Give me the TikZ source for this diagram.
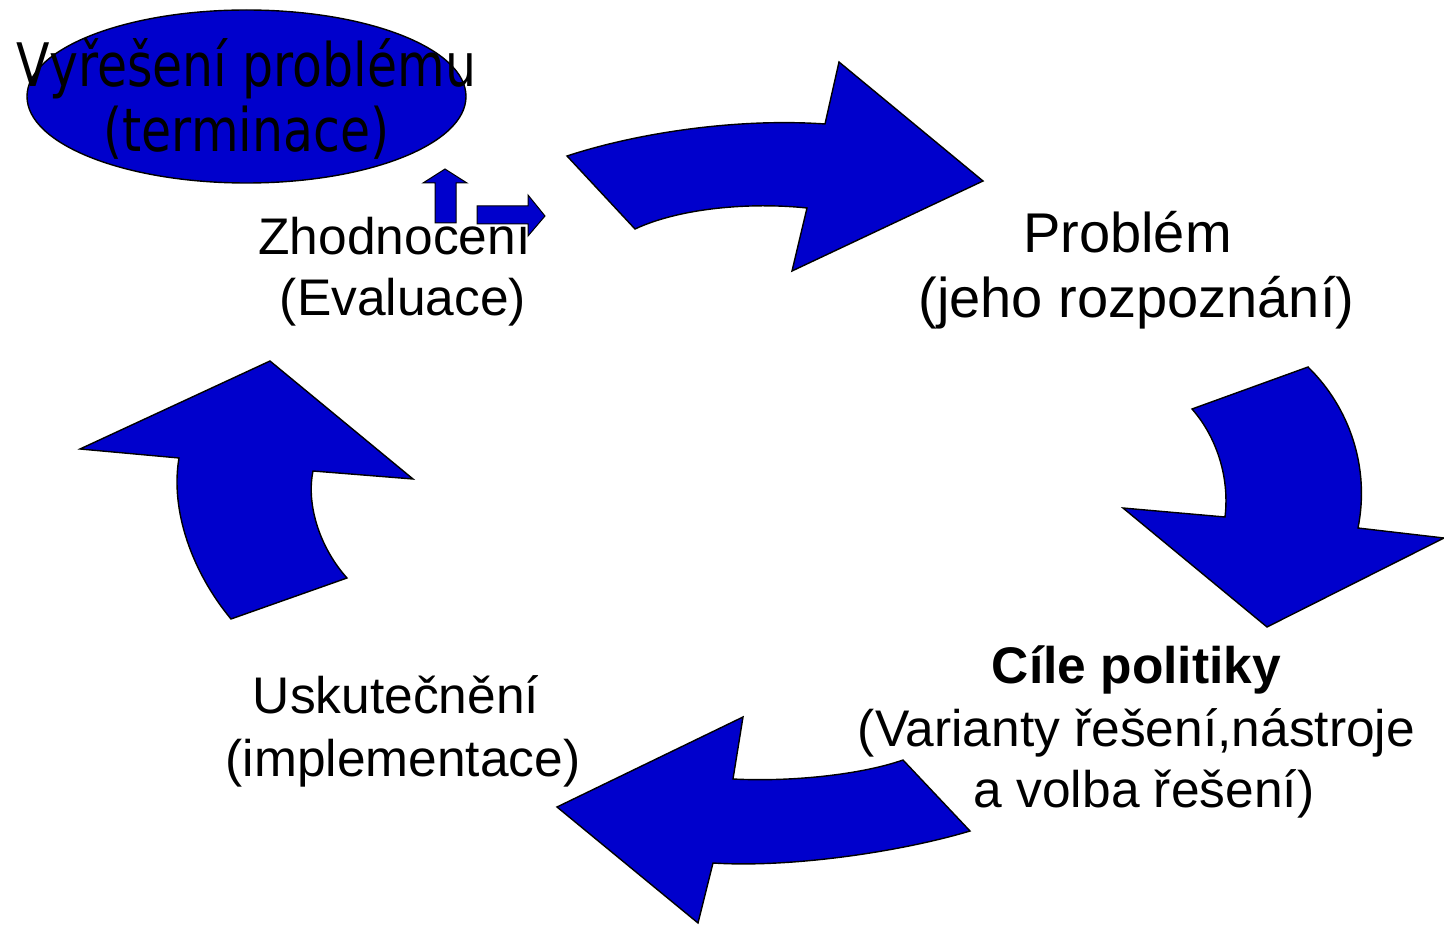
\documentclass[tikz,border=0pt]{standalone}
\usepackage{fontspec}
\setmainfont{Liberation Sans}
\newfontfamily\tahfont[FakeStretch=0.815]{DejaVu Sans}
\usetikzlibrary{shapes.geometric}
\definecolor{arrowblue}{RGB}{0,0,204}
\begin{document}
\begin{tikzpicture}[x=1pt,y=-1pt,
  bigarrow/.style={fill=arrowblue, draw=black, line width=1.4pt, line join=miter},
  smallarrow/.style={fill=arrowblue, draw=black, line width=1pt, line join=miter},
  lbl/.style={anchor=base, inner sep=0pt, font=\fontsize{51.5}{61}\selectfont},
  lblbig/.style={anchor=base, inner sep=0pt, font=\fontsize{56}{64}\selectfont},
  elbl/.style={anchor=base, inner sep=0pt, font=\tahfont\fontsize{60}{65}\selectfont}]
\fill[white] (0,0) rectangle (1444,925);
\useasboundingbox (0,0) rectangle (1444,925);

% termination ellipse
\node[ellipse, fill=arrowblue, draw=black, line width=1.4pt, minimum width=439pt, minimum height=173pt, inner sep=0pt] (term) at (246.5,96.5) {};
\node[elbl] (term1) at (246.5,87) {Vyřešení problému};
\node[elbl] (term2) at (246.5,152) {(terminace)};

% top arrow (pointing right)
\draw[bigarrow] (567,156) .. controls (640,132) and (740,118) .. (825,124)
  -- (839,62) -- (983,181) -- (792,271) -- (807,208)
  .. controls (750,202) and (680,208) .. (635,229) -- cycle;

% right arrow (pointing down)
\draw[bigarrow] (1308,367) -- (1192,409) .. controls (1215,435) and (1230,475) .. (1225,517)
  -- (1123,508) -- (1267,627) -- (1444,538) -- (1358,528)
  .. controls (1370,468) and (1350,408) .. (1308,367) -- cycle;

% bottom arrow (pointing left)
\draw[bigarrow] (903,760) -- (970,831) .. controls (900,852) and (790,868) .. (713,863)
  -- (698,923) -- (557,807) -- (743,717) -- (733,779)
  .. controls (790,782) and (860,775) .. (903,760) -- cycle;

% left arrow (pointing up)
\draw[bigarrow] (347,578) -- (231,619) .. controls (192,572) and (170,510) .. (179,458)
  -- (80,449) -- (270,361) -- (413,479) -- (313,471)
  .. controls (306,505) and (320,548) .. (347,578) -- cycle;

% labels
\node[lblbig] (prob1) at (1127.5,253) {Problém};
\node[lblbig] (prob2) at (1136.5,318) {(jeho rozpoznání)};

\node[lbl] (cile1) at (1136.5,683) {\bfseries Cíle politiky};
\node[lbl] (cile2) at (1136.5,746) {(Varianty řešení,nástroje};
\node[lbl] (cile3) at (1144,807) {a volba řešení)};

\node[lbl] (impl1) at (396,713) {Uskutečnění};
\node[lbl] (impl2) at (403,776) {(implementace)};

\node[lbl] (eval1) at (394.5,255) {Zhodnocení};
\node[lbl] (eval2) at (403,316) {(Evaluace)};

% small arrows
\draw[smallarrow] (435,223) -- (435,183) -- (423,183) -- (445,169) -- (467,183) -- (456,183) -- (456,223) -- cycle;
\draw[smallarrow] (477,206) -- (528,206) -- (528,195) -- (545,216) -- (528,236) -- (528,224) -- (477,224) -- cycle;
\end{tikzpicture}
\end{document}
